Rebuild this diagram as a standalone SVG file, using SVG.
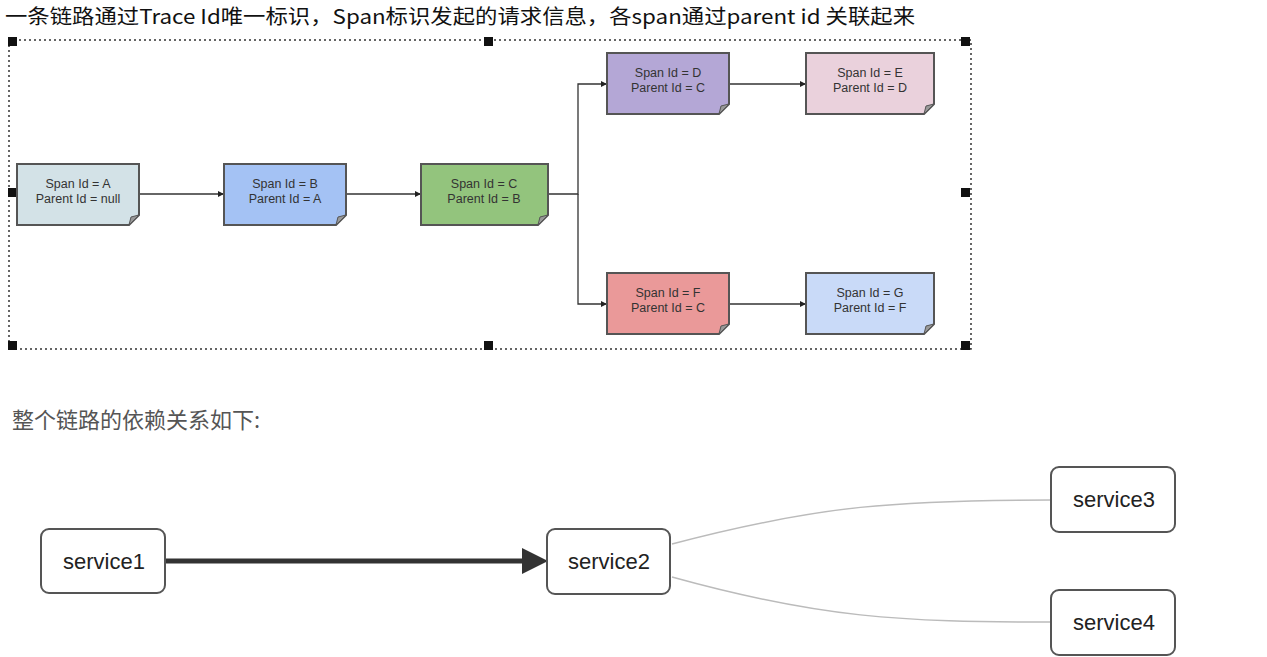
<svg xmlns="http://www.w3.org/2000/svg" width="1267" height="657" viewBox="0 0 1267 657">
<style>
.title{font-family:"Noto Sans CJK SC","Noto Sans",sans-serif;font-size:20px;fill:#111}
.sub{font-family:"Noto Sans CJK SC","Noto Sans",sans-serif;font-size:22px;fill:#555}
.span rect,.span path.b{stroke:#555;stroke-width:2}
.span text{font-family:"Liberation Sans",Arial,sans-serif;font-size:12.5px;fill:#333;text-anchor:middle}
.fold{fill:#999;stroke:#555;stroke-width:1}
.conn{fill:none;stroke:#333;stroke-width:1.3}
.svc rect{fill:#fff;stroke:#555;stroke-width:2}
.svc text{font-family:"Liberation Sans",Arial,sans-serif;font-size:22px;fill:#222;text-anchor:middle}
.dep{fill:none;stroke:#bbb;stroke-width:1.5}
.handle{fill:#111}
</style>
<defs>
<marker id="sa" viewBox="0 0 8 8" refX="8" refY="4" markerWidth="6" markerHeight="6" markerUnits="userSpaceOnUse" orient="auto">
<path d="M0,0 L8,4 L0,8 Z" fill="#222"/>
</marker>
</defs>
<rect width="1267" height="657" fill="#fff"/>
<text class="title" x="5" y="24" textLength="910" lengthAdjust="spacingAndGlyphs">一条链路通过Trace Id唯一标识，Span标识发起的请求信息，各span通过parent id 关联起来</text>

<g id="selection">
<rect x="9" y="40" width="962" height="309" fill="none" stroke="#333" stroke-width="1.5" stroke-dasharray="2,3"/>
<rect class="handle" x="8" y="37" width="9" height="9"/>
<rect class="handle" x="484" y="37" width="9" height="9"/>
<rect class="handle" x="961" y="37" width="9" height="9"/>
<rect class="handle" x="8" y="188" width="9" height="9"/>
<rect class="handle" x="961" y="188" width="9" height="9"/>
<rect class="handle" x="8" y="341" width="9" height="9"/>
<rect class="handle" x="484" y="341" width="9" height="9"/>
<rect class="handle" x="961" y="341" width="9" height="9"/>
</g>

<g id="connectors">
<path class="conn" d="M139,194 H224" marker-end="url(#sa)"/>
<path class="conn" d="M346,194 H421" marker-end="url(#sa)"/>
<path class="conn" d="M548,194 H578 V84 H607" marker-end="url(#sa)"/>
<path class="conn" d="M578,194 V304 H607" marker-end="url(#sa)"/>
<path class="conn" d="M729,84 H806" marker-end="url(#sa)"/>
<path class="conn" d="M729,304 H806" marker-end="url(#sa)"/>
<path d="M165,561 H530" stroke="#333" stroke-width="5" fill="none"/>
<path d="M522,548 L548,561 L522,574 Z" fill="#333"/>
<path class="dep" d="M672,544 C820,505 900,500 1051,500"/>
<path class="dep" d="M672,577 C820,618 900,622 1051,622"/>
</g>

<g id="spanA" class="span">
<path class="b" d="M17,164 H139 V215 L129,225 H17 Z" fill="#d3e2e7"/>
<path class="fold" d="M129,225 L131,217 L139,215 Z"/>
<text x="78" y="188">Span Id = A</text><text x="78" y="203">Parent Id = null</text>
</g>
<g id="spanB" class="span">
<path class="b" d="M224,164 H346 V215 L336,225 H224 Z" fill="#a4c2f4"/>
<path class="fold" d="M336,225 L338,217 L346,215 Z"/>
<text x="285" y="188">Span Id = B</text><text x="285" y="203">Parent Id = A</text>
</g>
<g id="spanC" class="span">
<path class="b" d="M421,164 H548 V215 L538,225 H421 Z" fill="#93c47d"/>
<path class="fold" d="M538,225 L540,217 L548,215 Z"/>
<text x="484" y="188">Span Id = C</text><text x="484" y="203">Parent Id = B</text>
</g>
<g id="spanD" class="span">
<path class="b" d="M607,53 H729 V104 L719,114 H607 Z" fill="#b4a7d6"/>
<path class="fold" d="M719,114 L721,106 L729,104 Z"/>
<text x="668" y="77">Span Id = D</text><text x="668" y="92">Parent Id = C</text>
</g>
<g id="spanE" class="span">
<path class="b" d="M806,53 H934 V104 L924,114 H806 Z" fill="#ead1dc"/>
<path class="fold" d="M924,114 L926,106 L934,104 Z"/>
<text x="870" y="77">Span Id = E</text><text x="870" y="92">Parent Id = D</text>
</g>
<g id="spanF" class="span">
<path class="b" d="M607,273 H729 V324 L719,334 H607 Z" fill="#ea9999"/>
<path class="fold" d="M719,334 L721,326 L729,324 Z"/>
<text x="668" y="297">Span Id = F</text><text x="668" y="312">Parent Id = C</text>
</g>
<g id="spanG" class="span">
<path class="b" d="M806,273 H934 V324 L924,334 H806 Z" fill="#c9daf8"/>
<path class="fold" d="M924,334 L926,326 L934,324 Z"/>
<text x="870" y="297">Span Id = G</text><text x="870" y="312">Parent Id = F</text>
</g>

<text class="sub" x="12" y="428">整个链路的依赖关系如下:</text>

<g id="service1" class="svc"><rect x="41" y="529" width="124" height="64" rx="8"/><text x="104" y="569">service1</text></g>
<g id="service2" class="svc"><rect x="547" y="529" width="123" height="65" rx="8"/><text x="609" y="569">service2</text></g>
<g id="service3" class="svc"><rect x="1051" y="467" width="124" height="65" rx="8"/><text x="1114" y="507">service3</text></g>
<g id="service4" class="svc"><rect x="1051" y="590" width="124" height="65" rx="8"/><text x="1114" y="630">service4</text></g>
</svg>
